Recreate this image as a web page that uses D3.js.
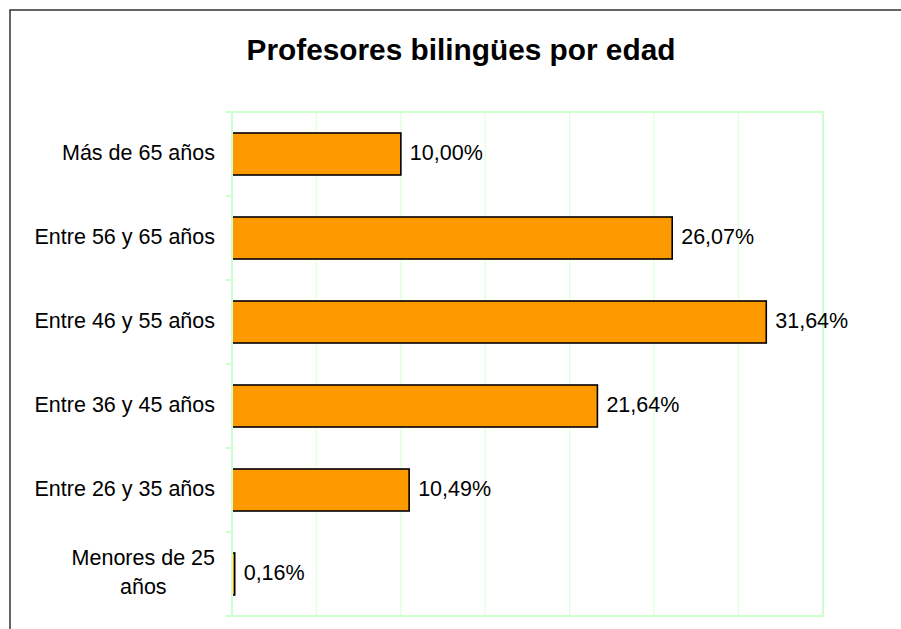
<!DOCTYPE html>
<html>
<head>
<meta charset="utf-8">
<script src="https://cdn.jsdelivr.net/npm/d3@7"></script>
<style>
  html, body { margin: 0; padding: 0; background: #fff; }
  svg { display: block; font-family: "Liberation Sans", Arial, sans-serif; }
</style>
</head>
<body>
<svg id="chart" width="901" height="629"></svg>
<script>
// Age groups, top to bottom, and share of bilingual teachers in each (%)
const categories = [
  "Más de 65 años",
  "Entre 56 y 65 años",
  "Entre 46 y 55 años",
  "Entre 36 y 45 años",
  "Entre 26 y 35 años",
  "Menores de 25 años"
];
const values = [10.00, 26.07, 31.64, 21.64, 10.49, 0.16];
const xTicks = [0, 5, 10, 15, 20, 25, 30, 35];
const title = "Profesores bilingües por edad";

const svg = d3.select("#chart");
const plot = { left: 232, top: 112, right: 823, bottom: 616 };

const esES = d3.formatLocale({ decimal: ",", thousands: ".", grouping: [3], currency: ["", " €"] });
const fmt = v => esES.format(".2f")(v) + "%";

const x = d3.scaleLinear().domain([0, 35]).range([plot.left, plot.right]);
const y = d3.scaleBand().domain(categories).range([plot.top, plot.bottom]).paddingInner(0.5).paddingOuter(0.25);
const band = d3.scaleBand().domain(categories).range([plot.top, plot.bottom]);

// Outer chart frame
svg.append("rect")
  .attr("x", 10).attr("y", 10)
  .attr("width", 900).attr("height", 630)
  .attr("fill", "#fff").attr("stroke", "#333").attr("stroke-width", 1.5);

// Title
svg.append("text")
  .attr("x", 461).attr("y", 60)
  .attr("text-anchor", "middle")
  .attr("font-size", 29.8).attr("font-weight", "bold")
  .attr("fill", "#000")
  .text(title);

// Vertical gridlines
svg.append("g")
  .selectAll("line")
  .data(xTicks.slice(1, -1))
  .join("line")
  .attr("x1", d => x(d)).attr("x2", d => x(d))
  .attr("y1", plot.top).attr("y2", plot.bottom)
  .attr("stroke", "#ddffdd").attr("stroke-width", 1.2);

// Bars
svg.append("g")
  .selectAll("rect")
  .data(values)
  .join("rect")
  .attr("x", x(0))
  .attr("y", (d, i) => y(categories[i]))
  .attr("width", d => x(d) - x(0))
  .attr("height", y.bandwidth())
  .attr("fill", "#ff9900")
  .attr("stroke", "#000").attr("stroke-width", 1.6);

// Plot area border
svg.append("rect")
  .attr("x", plot.left).attr("y", plot.top)
  .attr("width", plot.right - plot.left).attr("height", plot.bottom - plot.top)
  .attr("fill", "none").attr("stroke", "#ccffcc").attr("stroke-width", 2);

// Category axis with ticks at band boundaries
const yAxis = d3.axisLeft(band).tickSize(0).tickFormat("");
const ya = svg.append("g").attr("transform", `translate(${plot.left},0)`).call(yAxis);
ya.select(".domain").remove();
const bounds = categories.map(c => band(c)).concat([plot.bottom]);
ya.selectAll(".bound")
  .data(bounds)
  .join("line")
  .attr("class", "bound")
  .attr("x1", -6).attr("x2", 0)
  .attr("y1", d => d).attr("y2", d => d)
  .attr("stroke", "#ccffcc").attr("stroke-width", 2);
ya.append("line")
  .attr("x1", 0).attr("x2", 0)
  .attr("y1", plot.top).attr("y2", plot.bottom)
  .attr("stroke", "#ccffcc").attr("stroke-width", 2);

// Category labels, wrapped when too long
const labelRight = 215, maxLabel = 188, fs = 21.5, lineH = 29;
const labels = svg.append("g").attr("font-size", fs).attr("fill", "#000");
categories.forEach(c => {
  const cy = band(c) + band.bandwidth() / 2;
  const probe = labels.append("text").text(c);
  const full = probe.node().getComputedTextLength();
  if (full <= maxLabel) {
    probe.attr("x", labelRight).attr("y", cy).attr("dy", "0.27em").attr("text-anchor", "end");
    return;
  }
  probe.remove();
  const words = c.split(" ");
  const lines = [];
  let cur = [];
  const t = labels.append("text");
  words.forEach(w => {
    const test = cur.concat([w]).join(" ");
    t.text(test);
    if (t.node().getComputedTextLength() > maxLabel && cur.length) {
      lines.push(cur.join(" "));
      cur = [w];
    } else cur.push(w);
  });
  lines.push(cur.join(" "));
  let widest = 0;
  lines.forEach(l => { t.text(l); widest = Math.max(widest, t.node().getComputedTextLength()); });
  t.text(null);
  const cx = labelRight - widest / 2;
  const y0 = cy + fs * 0.27 - (lines.length - 1) * lineH / 2;
  t.attr("text-anchor", "middle");
  lines.forEach((l, k) => {
    t.append("tspan").attr("x", cx).attr("y", y0 + k * lineH).text(l);
  });
});

// Value labels
svg.append("g")
  .attr("font-size", fs).attr("fill", "#000")
  .selectAll("text")
  .data(values)
  .join("text")
  .attr("x", d => x(d) + 9)
  .attr("y", (d, i) => band(categories[i]) + band.bandwidth() / 2)
  .attr("dy", "0.27em")
  .text(d => fmt(d));
</script>
</body>
</html>
